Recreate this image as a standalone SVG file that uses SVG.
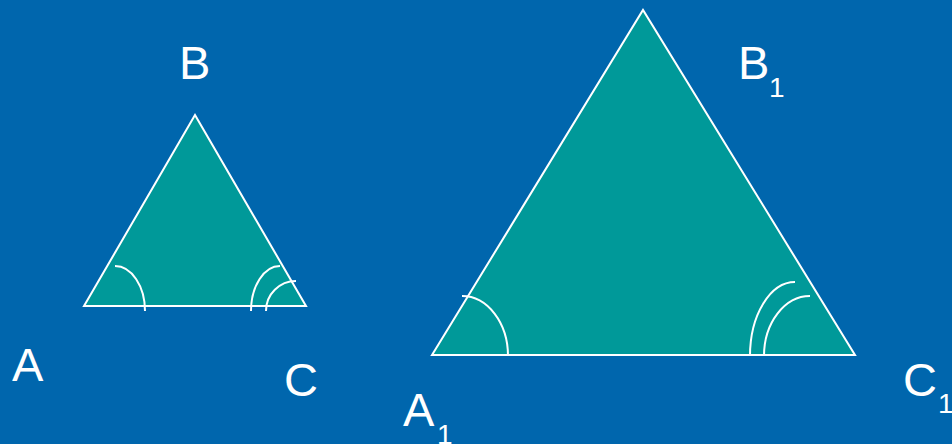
<svg xmlns="http://www.w3.org/2000/svg" width="952" height="444" viewBox="0 0 952 444">
<style>
.tri{fill:#009999;stroke:#ffffff;stroke-width:2;stroke-linejoin:miter}
.arc{fill:none;stroke:#ffffff;stroke-width:2}
.lbl{font-family:"Liberation Sans",Arial,sans-serif;font-size:47px;fill:#ffffff}
.sub{font-family:"Liberation Sans",Arial,sans-serif;font-size:28px;fill:#ffffff}
</style>
<rect x="0" y="0" width="952" height="444" fill="#0066ad"/>
<g id="triangle-small">
<polygon class="tri" points="84,306 195,115 306,306"/>
<path class="arc" d="M115,266 A30,45 0 0 1 145,311"/>
<path class="arc" d="M280,266 A29,45 0 0 0 251,311"/>
<path class="arc" d="M296,281 A30,30 0 0 0 266,311"/>
</g>
<g id="triangle-large">
<polygon class="tri" points="432,355 643,10 855,355"/>
<path class="arc" d="M462,296 A46,60 0 0 1 508,356"/>
<path class="arc" d="M795,282 A45,74 0 0 0 750,356"/>
<path class="arc" d="M810,296 A46,60 0 0 0 764,356"/>
</g>
<g id="labels">
<text class="lbl" x="179" y="79">B</text>
<text class="lbl" x="12" y="381">A</text>
<text class="lbl" x="284" y="396">C</text>
<text class="lbl" x="738" y="79">B</text><text class="sub" x="769" y="97">1</text>
<text class="lbl" x="403" y="426">A</text><text class="sub" x="437" y="444">1</text>
<text class="lbl" x="903" y="396">C</text><text class="sub" x="938" y="413">1</text>
</g>
</svg>
